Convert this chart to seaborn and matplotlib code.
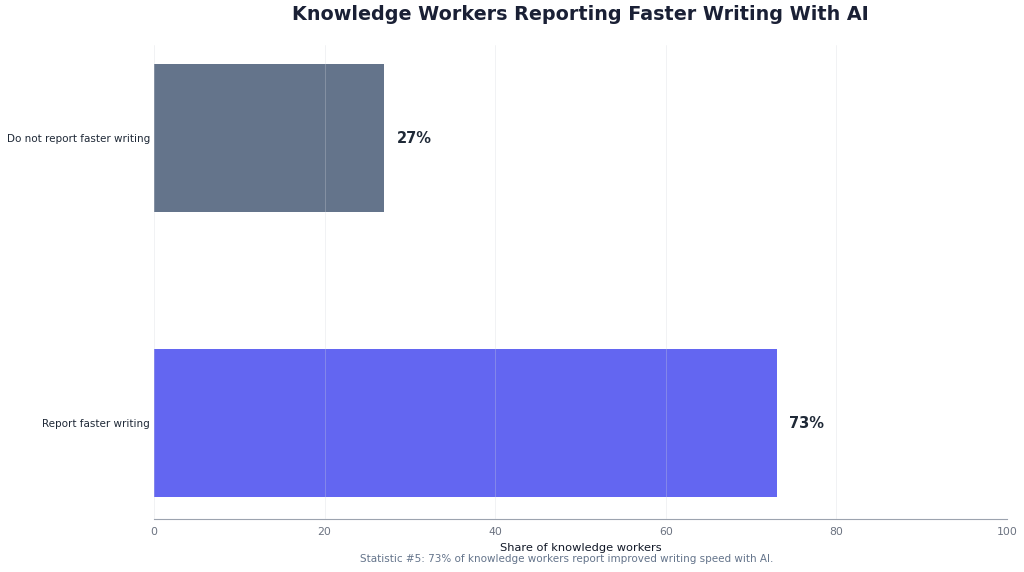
import matplotlib
matplotlib.use("Agg")
import matplotlib.pyplot as plt
import seaborn as sns
import pandas as pd

categories = ["Do not report faster writing", "Report faster writing"]
values = [27, 73]
colors = ["#64748b", "#6366f1"]
xticks = [0, 20, 40, 60, 80, 100]

sns.set_theme(style="white")
plt.rcParams['font.family'] = ['DejaVu Sans']

df = pd.DataFrame({"category": categories, "value": values})

fig = plt.figure(figsize=(10.24, 5.72), dpi=100)
ax = fig.add_axes([154/1024, 1 - 519/572, (1007-154)/1024, (519-45)/572])

sns.barplot(data=df, y="category", x="value", hue="category", palette=colors,
            order=categories, hue_order=categories, width=0.52, legend=False,
            ax=ax, saturation=1, edgecolor="none")

ax.set_xlim(0, 100)
ax.set_ylim(1.337, -0.327)
ax.set_xticks(xticks)
ax.set_xticklabels([str(t) for t in xticks], fontsize=7.8, color="#6b7280")
ax.tick_params(axis="x", length=3, color="#9ca3af", pad=3)
ax.tick_params(axis="y", length=0, labelsize=7.5, labelcolor="#1f2937", pad=3)
ax.grid(axis="x", color="#d1d5db", linewidth=0.6, alpha=0.35)
ax.set_axisbelow(False)
for s in ["top", "right", "left"]:
    ax.spines[s].set_visible(False)
ax.spines["bottom"].set_color("#9ca3af")
ax.spines["bottom"].set_linewidth(0.8)

ax.set_ylabel("")
ax.set_xlabel("Share of knowledge workers", fontsize=8.2, color="#111827", labelpad=4)

for i, v in enumerate(values):
    ax.text(v + 1.5, i, f"{v}%", va="center", ha="left", fontsize=10.5,
            fontweight="bold", color="#1f2937")

fig.text(580/1024, 1 - 15/572, "Knowledge Workers Reporting Faster Writing With AI",
         ha="center", va="center", fontsize=13.8, fontweight="bold", color="#1a2035")
fig.text(567/1024, 1 - 559/572,
         "Statistic #5: 73% of knowledge workers report improved writing speed with AI.",
         ha="center", va="center", fontsize=7.5, color="#64748b")

fig.savefig("out.png", dpi=100)
